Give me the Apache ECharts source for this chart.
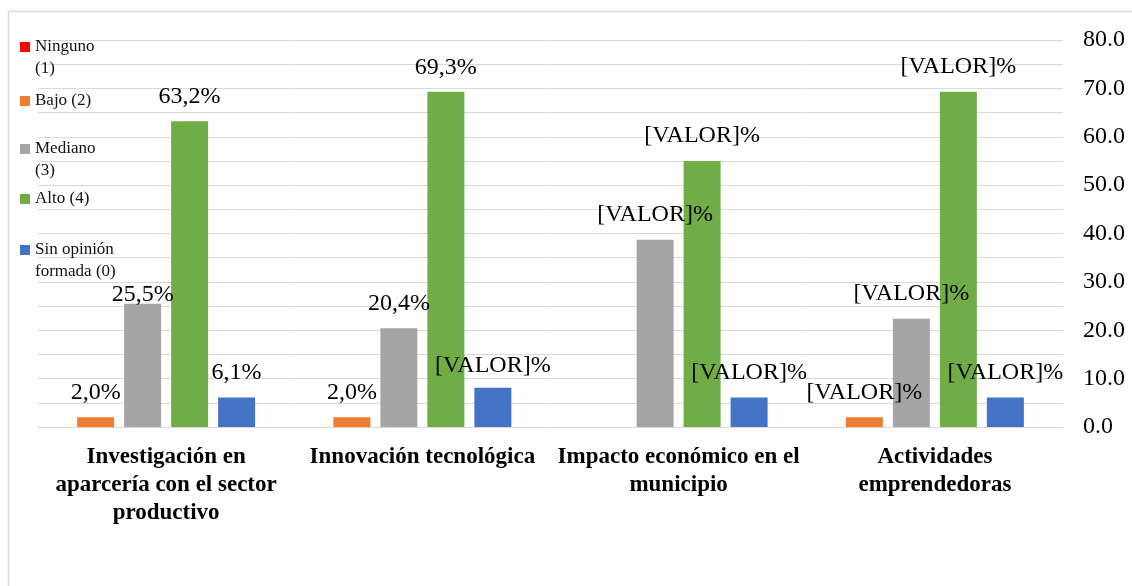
<!DOCTYPE html>
<html>
<head>
<meta charset="utf-8">
<script src="https://cdn.jsdelivr.net/npm/echarts@6/dist/echarts.min.js"></script>
<style>
html,body{margin:0;padding:0;background:#fff;}
#chart{width:1132px;height:586px;}
</style>
</head>
<body>
<div id="chart"></div>
<script>
// ---- data ----
const categories = [
  'Investigación en\naparcería con el sector\nproductivo',
  'Innovación tecnológica',
  'Impacto económico en el\nmunicipio',
  'Actividades\nemprendedoras'
];
const seriesNames = ['Ninguno (1)', 'Bajo (2)', 'Mediano (3)', 'Alto (4)', 'Sin opinión formada (0)'];
const ninguno    = [0, 0, 0, 0];
const bajo       = [2.0, 2.0, 0, 2.0];
const mediano    = [25.5, 20.4, 38.7, 22.4];
const alto       = [63.2, 69.3, 55.0, 69.3];
const sinOpinion = [6.1, 8.1, 6.1, 6.1];

const ningunoLabels = ['', '', '', ''];
const bajoLabels    = ['2,0%', '2,0%', '', '[VALOR]%'];
const medianoLabels = ['25,5%', '20,4%', '[VALOR]%', '[VALOR]%'];
const altoLabels    = ['63,2%', '69,3%', '[VALOR]%', '[VALOR]%'];
const sinLabels     = ['6,1%', '[VALOR]%', '[VALOR]%', '[VALOR]%'];

const yMin = 0, yMax = 80, yInterval = 10;

// ---- styling ----
const colors = ['#FF0000', '#ED7D31', '#A5A5A5', '#70AD47', '#4472C4'];
const serif = '"Liberation Serif", "Times New Roman", serif';
const labelNudge = { '2:0': [0, 16], '4:1': [0, 3], '3:1': [0, 1] };

const seriesValues = [ninguno, bajo, mediano, alto, sinOpinion];
const seriesLabels = [ningunoLabels, bajoLabels, medianoLabels, altoLabels, sinLabels];

const series = seriesValues.map((vals, s) => ({
  name: seriesNames[s],
  type: 'bar',
  barWidth: 37,
  barGap: '27%',
  itemStyle: { color: colors[s] },
  label: {
    show: true, position: 'top', distance: 13,
    fontFamily: serif, fontSize: 24, color: '#000'
  },
  data: vals.map((v, i) => {
    const txt = seriesLabels[s][i];
    const lab = { show: txt !== '', formatter: txt };
    if (labelNudge[s + ':' + i]) lab.offset = labelNudge[s + ':' + i];
    return { value: v, label: lab };
  })
}));
// empty slot series (reserves the sixth bar position as in the original layout)
series.push({ name: '_slot', type: 'bar', barWidth: 37, barGap: '27%', data: categories.map(() => null), silent: true });

const legendTops = [9, 85, 111, 183, 212];
const legendText = {
  'Ninguno (1)': '\nNinguno\n(1)',
  'Bajo (2)': 'Bajo (2)',
  'Mediano (3)': '\nMediano\n(3)',
  'Alto (4)': 'Alto (4)',
  'Sin opinión formada (0)': '\nSin opinión\nformada (0)'
};
const legends = seriesNames.map((n, s) => ({
  data: [n],
  orient: 'vertical',
  left: 15,
  top: legendTops[s],
  itemWidth: 10, itemHeight: 10,
  icon: 'rect',
  selectedMode: false,
  formatter: (name) => legendText[name],
  textStyle: {
    fontFamily: serif, fontSize: 17, color: '#111', lineHeight: 22
  }
}));

const chart = echarts.init(document.getElementById('chart'), null, { renderer: 'canvas' });
chart.setOption({
  animation: false,
  backgroundColor: '#fff',
  graphic: [{
    type: 'rect', z: -10,
    shape: { x: 8.5, y: 11.5, width: 1200, height: 700 },
    style: { fill: 'none', stroke: '#d9d9d9', lineWidth: 1.5 }
  }],
  legend: legends,
  grid: { left: 38, right: 69, top: 40, bottom: 159, containLabel: false },
  xAxis: {
    type: 'category',
    data: categories,
    axisTick: { show: false },
    axisLine: { show: true, lineStyle: { color: '#d9d9d9', width: 1 } },
    axisLabel: {
      interval: 0, margin: 16,
      fontFamily: serif, fontSize: 23, fontWeight: 'bold', color: '#000', lineHeight: 28
    }
  },
  yAxis: {
    type: 'value',
    position: 'right',
    min: yMin, max: yMax, interval: yInterval,
    axisLine: { show: false },
    axisTick: { show: false },
    axisLabel: {
      margin: 20, fontFamily: serif, fontSize: 24, color: '#000',
      formatter: (v) => v.toFixed(1)
    },
    splitLine: { show: true, lineStyle: { color: '#d9d9d9', width: 1 } },
    minorTick: { show: false, splitNumber: 2 },
    minorSplitLine: { show: true, lineStyle: { color: '#d9d9d9', width: 1 } }
  },
  series: series
});
</script>
</body>
</html>
